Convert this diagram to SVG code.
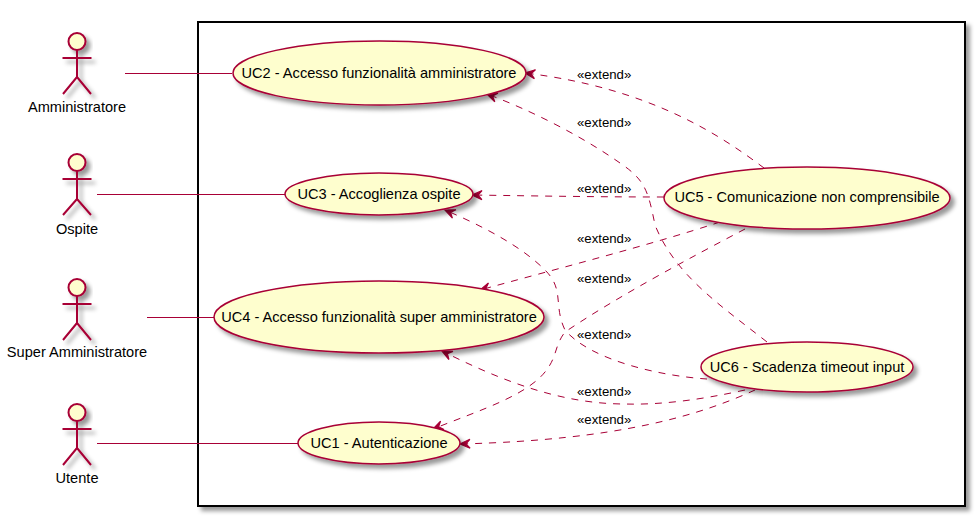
<svg xmlns="http://www.w3.org/2000/svg" width="976" height="518" viewBox="0 0 976 518">
<style>
text{font-family:"Liberation Sans",Arial,sans-serif;fill:#000}
.n{font-size:14.6px;text-anchor:middle}
.l{font-size:13.2px}
.u{fill:#FEFECE;stroke:#A80036;stroke-width:1.5;filter:url(#s)}
.a{fill:none;stroke:#A80036;stroke-width:2;filter:url(#s)}
.h{fill:#FEFECE;stroke:#A80036;stroke-width:2;filter:url(#s)}
.c{fill:none;stroke:#A80036;stroke-width:1}
.d{stroke-dasharray:7,7;marker-end:url(#m)}
</style>
<defs>
<filter id="s" x="-30%" y="-30%" width="170%" height="170%"><feDropShadow dx="4" dy="4" stdDeviation="2" flood-color="#000" flood-opacity="0.4"/></filter>
<marker id="m" markerUnits="userSpaceOnUse" markerWidth="14" markerHeight="14" refX="10" refY="5" orient="auto" overflow="visible"><path d="M10,5 L0,0.5 L4,5 L0,9.5 Z" fill="#A80036" stroke="#A80036" stroke-width="1.2"/></marker>
</defs>
<rect id="boundary" x="198" y="22" width="767" height="484" fill="#fff" stroke="#000" stroke-width="2" filter="url(#s)"/>
<g id="connectors">
<path class="c" d="M125,73.500H232M97,194.500H285M147,317.500H214M97,443.500H298"/>
<path class="c d" d="M764,168C720,135 650,88 525,73"/>
<path class="c d" d="M767,342C720,305 675,275 655,225C648,190 645,180 620,163C580,135 530,110 487,94"/>
<path class="c d" d="M664,197C600,197 540,196 472,195"/>
<path class="c d" d="M720,222C650,245 560,268 480,290"/>
<path class="c d" d="M745,229C690,258 620,295 565,332C555,345 557,355 548,368C530,395 480,410 433,429"/>
<path class="c d" d="M707,379C660,376 590,360 565,330C553,305 565,290 545,270C520,245 480,225 445,210"/>
<path class="c d" d="M745,390C700,400 660,405 625,404C560,404 500,380 442,351"/>
<path class="c d" d="M755,390C700,415 620,440 460,444"/>
<text class="l" x="577" y="79">«extend»</text>
<text class="l" x="577" y="127">«extend»</text>
<text class="l" x="577" y="193">«extend»</text>
<text class="l" x="577" y="243">«extend»</text>
<text class="l" x="577" y="283">«extend»</text>
<text class="l" x="577" y="339">«extend»</text>
<text class="l" x="577" y="396">«extend»</text>
<text class="l" x="577" y="424">«extend»</text>
</g>
<g id="actor-amministratore"><circle class="h" cx="77" cy="41.500" r="8.500"/><path class="a" d="M77,50V77M62.500,58H91.500M77,77L63,94M77,77L91,94"/><text class="n" x="77" y="112">Amministratore</text></g>
<g id="actor-ospite"><circle class="h" cx="77" cy="162.500" r="8.500"/><path class="a" d="M77,171V199M62.500,179H91.500M77,199L63,215M77,199L91,215"/><text class="n" x="77" y="234">Ospite</text></g>
<g id="actor-super"><circle class="h" cx="77" cy="287.500" r="8.500"/><path class="a" d="M77,296V323M62.500,304H91.500M77,323L63,340M77,323L91,340"/><text class="n" x="77" y="357">Super Amministratore</text></g>
<g id="actor-utente"><circle class="h" cx="77" cy="412.500" r="8.500"/><path class="a" d="M77,421V448M62.500,429H91.500M77,448L63,465M77,448L91,465"/><text class="n" x="77" y="483">Utente</text></g>
<g id="uc2"><ellipse class="u" cx="379.500" cy="73" rx="146.500" ry="32"/><text class="n" x="379" y="78">UC2 - Accesso funzionalità amministratore</text></g>
<g id="uc3"><ellipse class="u" cx="379" cy="194" rx="94" ry="21"/><text class="n" x="379" y="199">UC3 - Accoglienza ospite</text></g>
<g id="uc4"><ellipse class="u" cx="379" cy="317" rx="165" ry="36"/><text class="n" x="379" y="322">UC4 - Accesso funzionalità super amministratore</text></g>
<g id="uc1"><ellipse class="u" cx="379" cy="443" rx="81" ry="21"/><text class="n" x="379" y="448">UC1 - Autenticazione</text></g>
<g id="uc5"><ellipse class="u" cx="807" cy="198" rx="143" ry="31"/><text class="n" x="807" y="202">UC5 - Comunicazione non comprensibile</text></g>
<g id="uc6"><ellipse class="u" cx="807" cy="367" rx="106" ry="25"/><text class="n" x="807" y="372">UC6 - Scadenza timeout input</text></g>
</svg>
